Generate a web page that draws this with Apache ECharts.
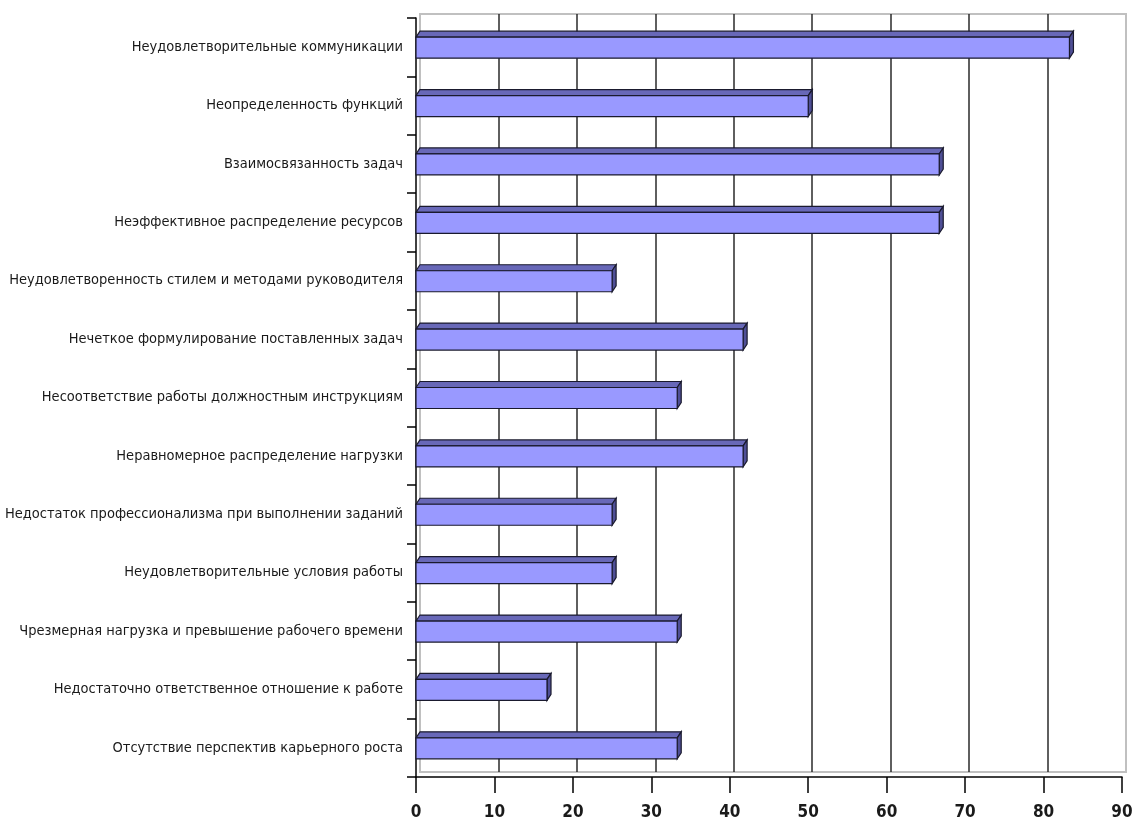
<!DOCTYPE html>
<html>
<head>
<meta charset="utf-8">
<script src="https://cdn.jsdelivr.net/npm/echarts@6/dist/echarts.min.js"></script>
<style>
  html, body { margin: 0; padding: 0; background: #fff; }
  #main { width: 1134px; height: 828px; }
</style>
</head>
<body>
<div id="main"></div>
<script>
var categories = [
  "Неудовлетворительные коммуникации",
  "Неопределенность функций",
  "Взаимосвязанность задач",
  "Неэффективное распределение ресурсов",
  "Неудовлетворенность стилем и методами руководителя",
  "Нечеткое формулирование поставленных задач",
  "Несоответствие работы должностным инструкциям",
  "Неравномерное распределение нагрузки",
  "Недостаток профессионализма при выполнении заданий",
  "Неудовлетворительные условия работы",
  "Чрезмерная нагрузка и превышение рабочего времени",
  "Недостаточно ответственное отношение к работе",
  "Отсутствие перспектив карьерного роста"
];
var values = [83.3, 50, 66.7, 66.7, 25, 41.7, 33.3, 41.7, 25, 25, 33.3, 16.7, 33.3];
var xTicks = [0, 10, 20, 30, 40, 50, 60, 70, 80, 90];

var narrow = "'Liberation Sans Narrow', 'Arial Narrow', 'DejaVu Sans Condensed', sans-serif";

// 3D bar: front rect + top face + right side
var DX = 4, DY = 6, BAR_H = 21;
function renderBar(params, api) {
  var p0 = api.coord([0, api.value(1)]);
  var p1 = api.coord([api.value(0), api.value(1)]);
  var x0 = p0[0], x1 = p1[0];
  var y0 = p0[1] - BAR_H / 2 + 0.5, y1 = p0[1] + BAR_H / 2 + 0.5;
  var edge = { stroke: "#1a1a2e", lineWidth: 1.2 };
  return {
    type: "group",
    children: [
      {
        type: "polygon",
        shape: { points: [[x0, y0], [x0 + DX, y0 - DY], [x1 + DX, y0 - DY], [x1, y0]] },
        style: Object.assign({ fill: "#6868b8" }, edge)
      },
      {
        type: "polygon",
        shape: { points: [[x1, y0], [x1 + DX, y0 - DY], [x1 + DX, y1 - DY], [x1, y1]] },
        style: Object.assign({ fill: "#4f4f96" }, edge)
      },
      {
        type: "rect",
        shape: { x: x0, y: y0, width: x1 - x0, height: y1 - y0 },
        style: Object.assign({ fill: "#9999ff" }, edge)
      }
    ]
  };
}

var chart = echarts.init(document.getElementById("main"));
var gridColors = xTicks.map(function (t, i) {
  return (i === 0 || i === xTicks.length - 1) ? "#c0c0c0" : "#2a2a2a";
});

chart.setOption({
  animation: false,
  backgroundColor: "#fff",
  grid: [
    // front plane
    { left: 416, right: 12, top: 18, bottom: 51, show: false, outerBoundsMode: "none" },
    // back wall
    { left: 420, right: 8, top: 14, bottom: 56, show: true, outerBoundsMode: "none",
      borderColor: "#c0c0c0", borderWidth: 2, backgroundColor: "#fff" }
  ],
  xAxis: [
    {
      type: "value", gridIndex: 0, min: 0, max: 90, interval: 10,
      axisLine: { show: true, lineStyle: { color: "#000", width: 1.5 } },
      axisTick: { show: true, length: 16, lineStyle: { color: "#000", width: 1.5 } },
      splitLine: { show: false },
      axisLabel: {
        margin: 27, color: "#1a1a1a", fontSize: 17, fontWeight: "bold",
        fontFamily: narrow
      }
    },
    {
      type: "value", gridIndex: 1, min: 0, max: 90, interval: 10,
      axisLine: { show: false }, axisTick: { show: false }, axisLabel: { show: false },
      splitLine: { show: true, lineStyle: { color: gridColors, width: 1.5 } }
    }
  ],
  yAxis: [
    {
      type: "category", gridIndex: 0, data: categories, inverse: true,
      axisLine: { show: true, lineStyle: { color: "#000", width: 1.5 } },
      axisTick: { show: true, length: 9, lineStyle: { color: "#000", width: 1.5 } },
      axisLabel: {
        margin: 13, color: "#1a1a1a", fontSize: 14.5, fontFamily: narrow
      }
    },
    {
      type: "category", gridIndex: 1, data: categories, inverse: true,
      axisLine: { show: false }, axisTick: { show: false }, axisLabel: { show: false },
      splitLine: { show: false }
    }
  ],
  series: [
    {
      type: "custom",
      xAxisIndex: 0, yAxisIndex: 0,
      renderItem: renderBar,
      encode: { x: 0, y: 1 },
      data: values.map(function (v, i) { return [v, i]; }),
      z: 5
    }
  ]
});
</script>
</body>
</html>
